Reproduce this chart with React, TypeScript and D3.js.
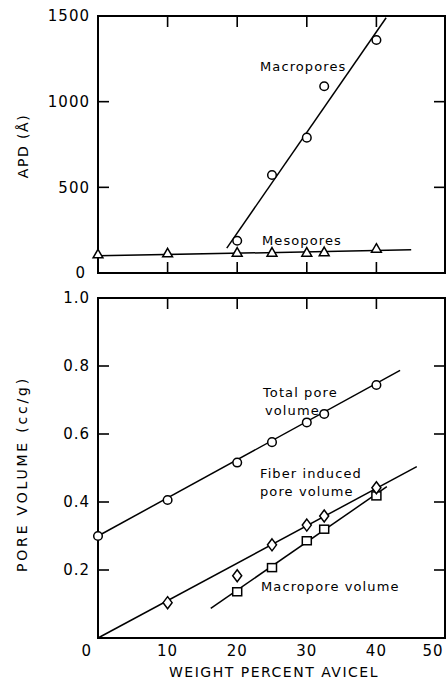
import React from 'react';
import * as d3 from 'd3';

// top panel: average pore diameter
const apdTicks = [0, 500, 1000, 1500];
const macroX = [20, 25, 30, 32.5, 40];
const macroApd = [188, 572, 790, 1090, 1360];
const macroFitX = [18.5, 41.4];
const macroFitY = [145, 1490];
const mesoX = [0, 10, 20, 25, 30, 32.5, 40];
const mesoApd = [105, 111, 115, 115, 115, 118, 138];
const mesoFitX = [0, 45];
const mesoFitY = [100, 135];

// bottom panel: pore volume
const volTicks = [0, 0.2, 0.4, 0.6, 0.8, 1.0];
const xTicks = [0, 10, 20, 30, 40, 50];
const totalX = [0, 10, 20, 25, 30, 32.5, 40];
const totalVol = [0.3, 0.406, 0.516, 0.576, 0.634, 0.659, 0.744];
const totalFitX = [0, 43.4];
const totalFitY = [0.3, 0.787];
const fiberX = [10, 20, 25, 30, 32.5, 40];
const fiberVol = [0.104, 0.183, 0.274, 0.332, 0.359, 0.442];
const fiberFitX = [0, 45.8];
const fiberFitY = [0, 0.504];
const macroVolX = [20, 25, 30, 32.5, 40];
const macroVol = [0.136, 0.207, 0.286, 0.32, 0.418];
const macroVolFitX = [16.2, 41.5];
const macroVolFitY = [0.087, 0.445];

const W = 447;
const H = 681;
const font = "'DejaVu Sans', sans-serif";

const x = d3.scaleLinear().domain([0, 50]).range([98, 446]);
const yTop = d3.scaleLinear().domain([0, 1500]).range([273, 16]);
const yBot = d3.scaleLinear().domain([0, 1]).range([638, 298]);

const zip = (xs: number[], ys: number[]) => xs.map((v, i) => [v, ys[i]] as [number, number]);

const diamond = 'M0,-6L4.5,0L0,6L-4.5,0Z';
const triangle = d3.symbol().type(d3.symbolTriangle).size(42)()!;

function Frame({ y, tickVals, tickFmt, bottomTicks }: any) {
  const [y0, y1] = y.range();
  const len = 11;
  const inner = tickVals.filter((v: number) => y(v) < y0 - 1 && y(v) > y1 + 1);
  return (
    <g stroke="#000" strokeWidth={1.6} fill="none">
      <rect x={x(0)} y={y1} width={x(50) - x(0) - 1} height={y0 - y1} strokeWidth={2} />
      {[10, 20, 30, 40].map((v) => (
        <line key={'t' + v} x1={x(v)} x2={x(v)} y1={y1} y2={y1 + len} />
      ))}
      {bottomTicks &&
        [10, 20, 30, 40].map((v) => (
          <line key={'b' + v} x1={x(v)} x2={x(v)} y1={y0} y2={y0 - len} />
        ))}
      {inner.map((v: number) => (
        <g key={'y' + v}>
          <line x1={x(0)} x2={x(0) + len} y1={y(v)} y2={y(v)} />
          <line x1={x(50) - 1} x2={x(50) - 1 - len} y1={y(v)} y2={y(v)} />
        </g>
      ))}
      {tickVals.map((v: number) => (
        <text
          key={'l' + v}
          x={v === 0 && bottomTicks ? 86 : 90}
          y={y(v)}
          dy="0.36em"
          textAnchor="end"
          stroke="none"
          fill="#000"
          fontSize={15}
          letterSpacing={1}
        >
          {tickFmt(v)}
        </text>
      ))}
    </g>
  );
}

export default function App() {
  const line = (sc: any) =>
    d3
      .line<[number, number]>()
      .x((d) => x(d[0]))
      .y((d) => sc(d[1]));
  const lt = line(yTop);
  const lb = line(yBot);
  const mk = { fill: '#fff', stroke: '#000', strokeWidth: 1.5 };
  const lbl = { fontSize: 13, letterSpacing: 1.1, fill: '#000' };

  return (
    <svg
      width={W}
      height={H}
      style={{ position: 'absolute', left: 0, top: 0, background: '#fff' }}
      fontFamily={font}
    >
      {/* top panel */}
      <Frame y={yTop} tickVals={apdTicks} tickFmt={(v: number) => String(v)} bottomTicks />
      <g fill="none" stroke="#000" strokeWidth={1.5}>
        <path d={lt(zip(macroFitX, macroFitY))!} />
        <path d={lt(zip(mesoFitX, mesoFitY))!} />
      </g>
      {zip(macroX, macroApd).map((d, i) => (
        <circle key={'mc' + i} cx={x(d[0])} cy={yTop(d[1])} r={4.3} {...mk} />
      ))}
      {zip(mesoX, mesoApd).map((d, i) => (
        <path key={'ms' + i} d={triangle} transform={`translate(${x(d[0])},${yTop(d[1])})`} {...mk} />
      ))}
      <text x={260} y={66} dy="0.36em" {...lbl}>Macropores</text>
      <text x={262} y={240} dy="0.36em" {...lbl}>Mesopores</text>
      <text
        transform={`translate(23,146) rotate(-90)`}
        textAnchor="middle"
        dy="0.36em"
        fontSize={14}
        letterSpacing={1.5}
      >
        APD (Å)
      </text>

      {/* bottom panel */}
      <Frame y={yBot} tickVals={volTicks.slice(1)} tickFmt={(v: number) => v.toFixed(1)} bottomTicks={false} />
      <g fill="none" stroke="#000" strokeWidth={1.5}>
        <path d={lb(zip(totalFitX, totalFitY))!} />
        <path d={lb(zip(fiberFitX, fiberFitY))!} />
        <path d={lb(zip(macroVolFitX, macroVolFitY))!} />
      </g>
      {zip(totalX, totalVol).map((d, i) => (
        <circle key={'tc' + i} cx={x(d[0])} cy={yBot(d[1])} r={4.3} {...mk} />
      ))}
      {zip(macroVolX, macroVol).map((d, i) => (
        <rect key={'sq' + i} x={x(d[0]) - 4.5} y={yBot(d[1]) - 4} width={9} height={8} {...mk} />
      ))}
      {zip(fiberX, fiberVol).map((d, i) => (
        <path key={'fd' + i} d={diamond} transform={`translate(${x(d[0])},${yBot(d[1])})`} {...mk} />
      ))}
      <text x={263} y={392} dy="0.36em" {...lbl}>Total pore</text>
      <text x={265} y={410} dy="0.36em" {...lbl}>volume</text>
      <text x={260} y={473} dy="0.36em" {...lbl}>Fiber induced</text>
      <text x={260} y={491} dy="0.36em" {...lbl}>pore volume</text>
      <text x={261} y={586} dy="0.36em" {...lbl}>Macropore volume</text>
      {xTicks.map((v) => (
        <text
          key={'x' + v}
          x={v === 0 ? x(v) - 6 : Math.min(x(v), W - 14)}
          y={651}
          dy="0.36em"
          textAnchor={v === 0 ? 'end' : 'middle'}
          fontSize={15}
          letterSpacing={1}
        >
          {v}
        </text>
      ))}
      <text x={274} y={672} dy="0.36em" textAnchor="middle" fontSize={14} letterSpacing={1.5}>
        WEIGHT PERCENT AVICEL
      </text>
      <text
        transform={`translate(22,474) rotate(-90)`}
        textAnchor="middle"
        dy="0.36em"
        fontSize={14}
        letterSpacing={2.8}
      >
        PORE VOLUME (cc/g)
      </text>
    </svg>
  );
}
